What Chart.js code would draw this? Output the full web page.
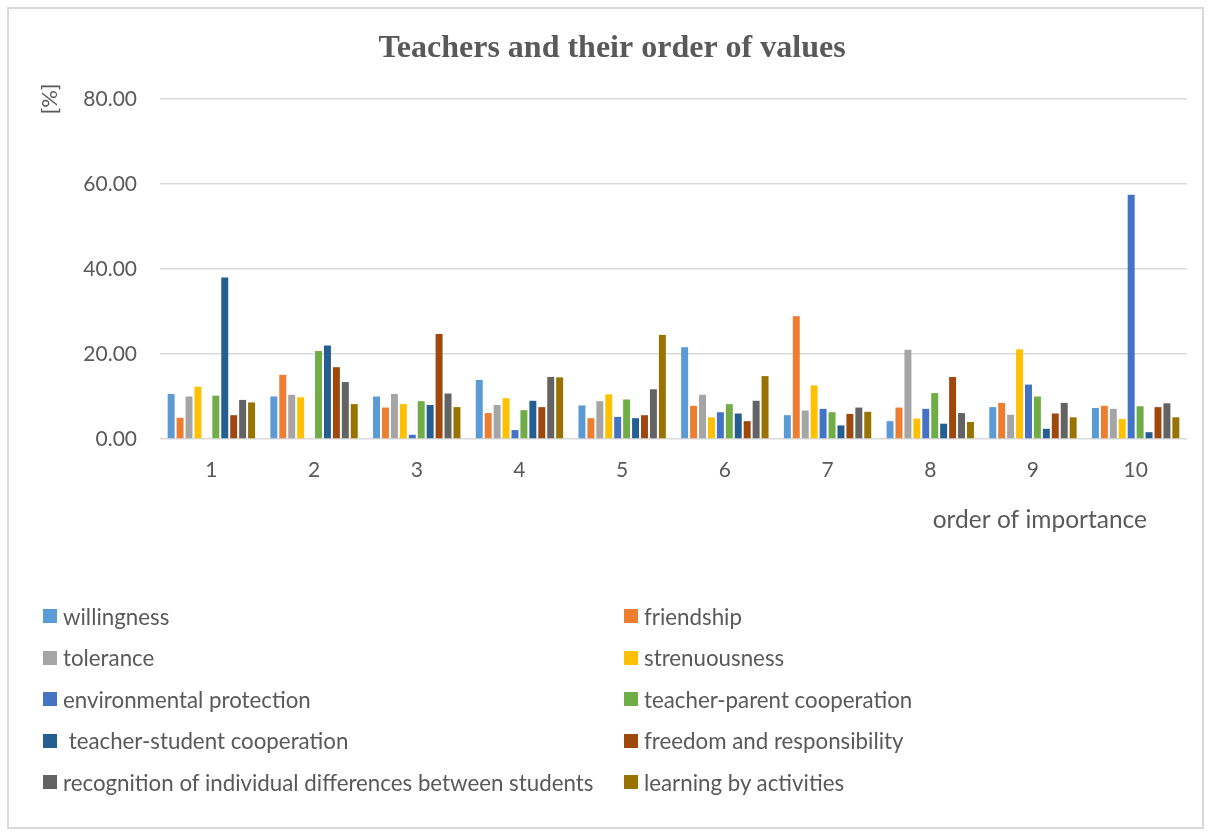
<!DOCTYPE html>
<html>
<head>
<meta charset="utf-8">
<script src="https://cdn.jsdelivr.net/npm/chart.js@4"></script>
<style>
  html, body { margin: 0; padding: 0; background: #fff; }
  #wrap { position: relative; width: 1212px; height: 838px; overflow: hidden; }
  #frame { position: absolute; left: 7px; top: 7px; width: 1197px; height: 822px; border: 2px solid #d9d9d9; box-sizing: border-box; }
  #c { position: absolute; left: 0; top: 0; }
  #legend { position: absolute; left: 0; top: 0; width: 1212px; height: 838px; pointer-events: none; }
  .li { position: absolute; display: flex; align-items: center; font-family: Lato, "Liberation Sans", sans-serif; font-size: 22.3px; color: #595959; white-space: pre; }
  .li span.box { width: 14px; height: 14px; display: inline-block; margin-right: 6px; }
</style>
</head>
<body>
<div id="wrap">
  <div id="frame"></div>
  <canvas id="c" width="1212" height="838"></canvas>
  <div id="legend"></div>
</div>
<script>
const categories = ["1","2","3","4","5","6","7","8","9","10"];
const seriesNames = [
  "willingness", "friendship", "tolerance", "strenuousness",
  "environmental protection", "teacher-parent cooperation",
  " teacher-student cooperation", "freedom and responsibility",
  "recognition of individual differences between students", "learning by activities"
];
const seriesColors = ["#5B9BD5","#ED7D31","#A5A5A5","#FFC000","#4472C4","#70AD47","#255E91","#9E480E","#636363","#997300"];

const willingness      = [10.6, 10.0, 10.0, 13.9, 7.9, 21.6, 5.6, 4.2, 7.5, 7.3];
const friendship       = [5.0, 15.1, 7.4, 6.1, 4.9, 7.8, 28.9, 7.4, 8.5, 7.8];
const tolerance        = [10.0, 10.4, 10.6, 8.0, 8.9, 10.4, 6.7, 21.0, 5.7, 7.1];
const strenuousness    = [12.3, 9.8, 8.2, 9.6, 10.5, 5.1, 12.6, 4.8, 21.1, 4.7];
const envProtection    = [0.0, 0.0, 1.0, 2.1, 5.2, 6.3, 7.1, 7.1, 12.8, 57.5];
const teacherParent    = [10.2, 20.7, 8.9, 6.8, 9.3, 8.2, 6.3, 10.8, 10.0, 7.7];
const teacherStudent   = [38.0, 22.0, 8.0, 9.0, 4.9, 6.0, 3.2, 3.6, 2.4, 1.6];
const freedom          = [5.6, 16.9, 24.7, 7.5, 5.6, 4.2, 5.9, 14.6, 6.0, 7.5];
const recognition      = [9.2, 13.4, 10.7, 14.6, 11.7, 9.0, 7.4, 6.1, 8.5, 8.4];
const learning         = [8.6, 8.2, 7.5, 14.5, 24.5, 14.8, 6.4, 4.0, 5.1, 5.1];

const seriesValues = [willingness, friendship, tolerance, strenuousness, envProtection,
  teacherParent, teacherStudent, freedom, recognition, learning];

const yTicks = [0, 20, 40, 60, 80];
const titleText = "Teachers and their order of values";
const yTitle = "[%]";
const xTitle = "order of importance";

const TXT = "#595959";
const FONT = "Lato, 'Liberation Sans', sans-serif";

const axisTitles = {
  id: 'axisTitles',
  afterDraw(chart) {
    const ctx = chart.ctx, a = chart.chartArea;
    ctx.save();
    ctx.fillStyle = TXT;
    ctx.textBaseline = "middle";
    ctx.save();
    ctx.font = "22px " + FONT;
    ctx.translate(50, a.top);
    ctx.rotate(-Math.PI / 2);
    ctx.textAlign = "center";
    ctx.fillText(yTitle, 0, 0);
    ctx.restore();
    ctx.font = "24.5px " + FONT;
    ctx.textAlign = "right";
    ctx.fillText(xTitle, a.right - 40, a.bottom + 81);
    ctx.restore();
  }
};

const chart = new Chart(document.getElementById('c'), {
  type: 'bar',
  data: {
    labels: categories,
    datasets: seriesNames.map((n, i) => ({
      label: n,
      data: seriesValues[i],
      backgroundColor: seriesColors[i],
      borderWidth: 0,
      categoryPercentage: 0.87,
      barPercentage: 0.78
    }))
  },
  options: {
    responsive: false,
    animation: false,
    layout: { padding: { left: 37, right: 25, top: 0, bottom: 838 - 439 - 60 } },
    plugins: {
      legend: { display: false },
      tooltip: { enabled: false },
      title: {
        display: true,
        text: titleText,
        color: TXT,
        font: { family: "'Liberation Serif', 'DejaVu Serif', serif", size: 32, weight: 'bold' },
        padding: { top: 29.5, bottom: 31.1 }
      }
    },
    scales: {
      x: {
        grid: { display: false, drawTicks: false },
        border: { display: false },
        ticks: { color: TXT, font: { family: FONT, size: 21 }, padding: 19 },
        afterFit(s) { s.height = 60; }
      },
      y: {
        min: 0, max: 80,
        afterBuildTicks(s) { s.ticks = yTicks.map(v => ({ value: v })); },
        grid: { color: "#d9d9d9", lineWidth: 1.5, drawTicks: false },
        border: { display: false },
        ticks: { color: TXT, font: { family: FONT, size: 21 }, padding: 23,
          callback: v => Number(v).toFixed(2) },
        afterFit(s) { s.width = 123; }
      }
    }
  },
  plugins: [axisTitles]
});

// HTML legend, built from the chart's datasets
const legend = document.getElementById('legend');
const colX = [43, 624];
const rowY = [616, 657.5, 699, 740.5, 782];
chart.data.datasets.forEach((ds, i) => {
  const el = document.createElement('div');
  el.className = 'li';
  const box = document.createElement('span');
  box.className = 'box';
  box.style.background = ds.backgroundColor;
  const t = document.createElement('span');
  t.textContent = ds.label;
  el.appendChild(box); el.appendChild(t);
  el.style.left = colX[i % 2] + 'px';
  el.style.top = (rowY[Math.floor(i / 2)] - 13) + 'px';
  el.style.height = '26px';
  legend.appendChild(el);
});
</script>
</body>
</html>
